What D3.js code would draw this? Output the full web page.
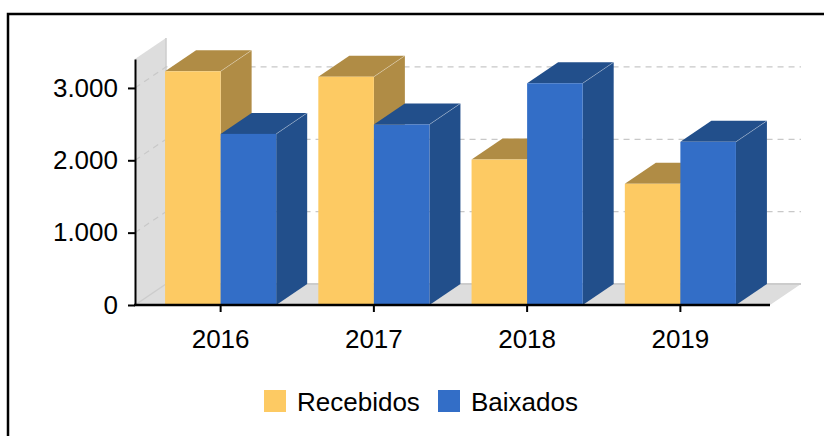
<!DOCTYPE html>
<head>
  <meta charset="utf-8">
  <script src="https://d3js.org/d3.v7.min.js"></script>
  <style>
    body { margin: 0; background: #fff; }
    text { font-family: "Liberation Sans", Arial, sans-serif; fill: #000; }
    .grid { stroke: #c8c8c8; stroke-width: 1.2; stroke-dasharray: 6 5; fill: none; }
    .axis path, .axis line { stroke: #000; stroke-width: 2; }
  </style>
</head>
<body>
  <svg id="chart" width="824" height="436"></svg>
  <script>
    var years = ['2016', '2017', '2018', '2019'];
    var series = ['Recebidos', 'Baixados'];
    var recebidos = [3230, 3155, 2010, 1675];
    var baixados = [2365, 2495, 3065, 2255];
    var yTicks = [0, 1000, 2000, 3000];

    var front = { Recebidos: '#fdca63', Baixados: '#336ec7' };
    var dark = { Recebidos: '#b08c45', Baixados: '#224f8b' };

    var chart = d3.select('#chart');
    var plotLeft = 135, plotRight = 770, plotTop = 59, plotBottom = 305;
    var dx = 31, dy = 21;

    var ptBR = d3.formatLocale({ decimal: ',', thousands: '.', grouping: [3], currency: ['', ''] });

    var y = d3.scaleLinear().domain([0, 3400]).range([plotBottom, plotTop]);
    var x0 = d3.scaleBand().domain(years).range([144, 757])
      .paddingInner(0.275).paddingOuter(0.1375);
    var x1 = d3.scaleBand().domain(series).range([0, x0.bandwidth()]);

    // frame
    chart.append('rect')
      .attr('x', 8).attr('y', 14).attr('width', 900).attr('height', 500)
      .attr('fill', 'none').attr('stroke', '#000').attr('stroke-width', 2.5);

    // side wall
    chart.append('path')
      .attr('d', 'M' + plotLeft + ',' + y(0) + 'L' + (plotLeft + dx) + ',' + (y(0) - dy) +
        'L' + (plotLeft + dx) + ',' + (plotTop - dy) + 'L' + plotLeft + ',' + plotTop + 'Z')
      .attr('fill', '#dddddd');
    chart.append('line')
      .attr('x1', plotLeft + dx).attr('x2', plotLeft + dx)
      .attr('y1', y(0) - dy).attr('y2', plotTop - dy)
      .attr('stroke', '#cccccc').attr('stroke-width', 1.5);

    // floor
    chart.append('path')
      .attr('d', 'M' + plotLeft + ',' + y(0) + 'L' + plotRight + ',' + y(0) +
        'L' + (plotRight + dx) + ',' + (y(0) - dy) + 'L' + (plotLeft + dx) + ',' + (y(0) - dy) + 'Z')
      .attr('fill', '#dddddd');
    chart.append('line')
      .attr('x1', plotLeft + dx).attr('x2', plotRight + dx)
      .attr('y1', y(0) - dy).attr('y2', y(0) - dy)
      .attr('stroke', '#cccccc').attr('stroke-width', 2);
    chart.append('line')
      .attr('x1', plotLeft).attr('x2', plotLeft + dx)
      .attr('y1', y(0)).attr('y2', y(0) - dy)
      .attr('stroke', '#cccccc').attr('stroke-width', 1.5);

    // gridlines
    yTicks.filter((t) => t > 0).forEach((t) => {
      chart.append('path')
        .attr('class', 'grid')
        .attr('d', 'M' + plotLeft + ',' + y(t) + 'L' + (plotLeft + dx) + ',' + (y(t) - dy) +
          'L' + (plotRight + dx) + ',' + (y(t) - dy));
    });

    // bars
    var data = [];
    years.forEach((yr, i) => {
      data.push({ year: yr, key: 'Recebidos', value: recebidos[i] });
      data.push({ year: yr, key: 'Baixados', value: baixados[i] });
    });

    var bars = chart.append('g').selectAll('g')
      .data(data).enter().append('g');

    bars.each(function (d) {
      var g = d3.select(this);
      var xa = x0(d.year) + x1(d.key);
      var xb = xa + x1.bandwidth();
      var yt = y(d.value), yb = y(0);
      // right side
      g.append('path')
        .attr('d', 'M' + xb + ',' + yb + 'L' + (xb + dx) + ',' + (yb - dy) +
          'L' + (xb + dx) + ',' + (yt - dy) + 'L' + xb + ',' + yt + 'Z')
        .attr('fill', dark[d.key]);
      // top
      g.append('path')
        .attr('d', 'M' + xa + ',' + yt + 'L' + (xa + dx) + ',' + (yt - dy) +
          'L' + (xb + dx) + ',' + (yt - dy) + 'L' + xb + ',' + yt + 'Z')
        .attr('fill', dark[d.key]);
      g.append('line')
        .attr('x1', xb).attr('y1', yt).attr('x2', xb + dx).attr('y2', yt - dy)
        .attr('stroke', '#ffffff').attr('stroke-opacity', 0.3).attr('stroke-width', 1);
      // front
      g.append('rect')
        .attr('x', xa).attr('y', yt)
        .attr('width', xb - xa).attr('height', yb - yt)
        .attr('fill', front[d.key]);
    });

    // axes
    chart.append('g')
      .attr('class', 'axis')
      .attr('transform', 'translate(' + plotLeft + ',0)')
      .call(d3.axisLeft(y).tickValues(yTicks).tickSize(7).tickSizeOuter(0)
        .tickPadding(10).tickFormat(ptBR.format(',d')))
      .call((g) => g.selectAll('text').style('font-size', '26px'));

    chart.append('line')
      .attr('x1', plotLeft - 1).attr('x2', plotRight)
      .attr('y1', y(0)).attr('y2', y(0))
      .attr('stroke', '#000').attr('stroke-width', 2.5);

    chart.append('g')
      .attr('class', 'axis')
      .attr('transform', 'translate(0,' + y(0) + ')')
      .call(d3.axisBottom(x0).tickSize(7).tickSizeOuter(0).tickPadding(18))
      .call((g) => g.select('.domain').remove())
      .call((g) => g.selectAll('text').style('font-size', '26px'));

    // legend
    var legend = chart.append('g').attr('transform', 'translate(264,390)');
    var legendX = [0, 174];
    series.forEach((s, i) => {
      var item = legend.append('g').attr('transform', 'translate(' + legendX[i] + ',0)');
      item.append('rect').attr('width', 22).attr('height', 22).attr('fill', front[s]);
      item.append('text').attr('x', 33).attr('y', 21)
        .style('font-size', '26px').text(s);
    });
  </script>
</body>
</html>
